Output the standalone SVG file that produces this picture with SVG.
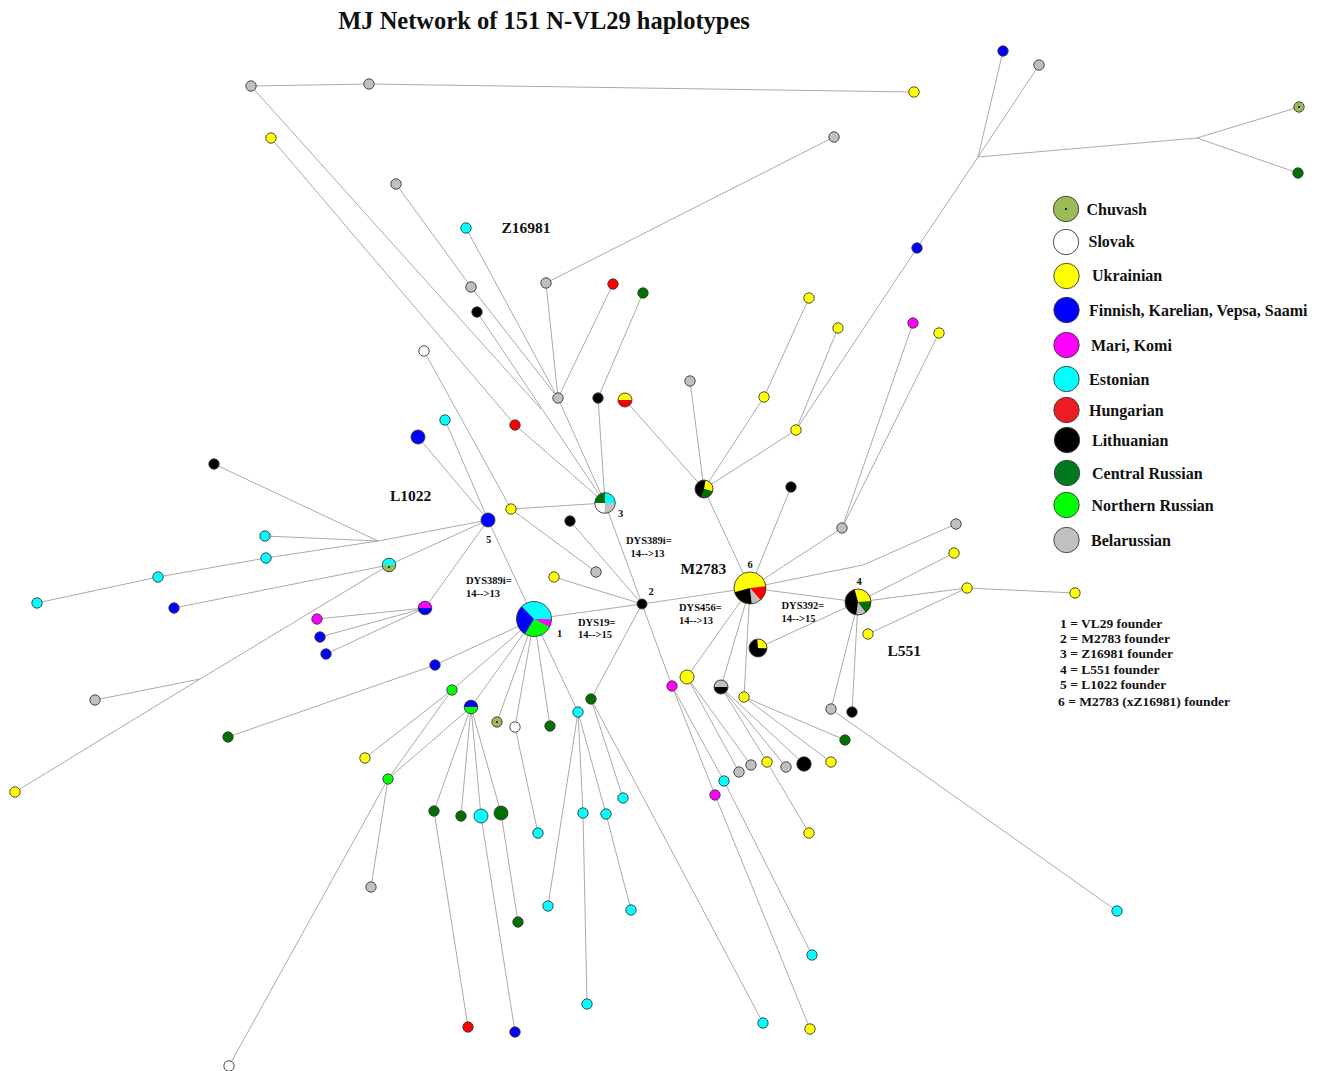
<svg xmlns="http://www.w3.org/2000/svg" width="1320" height="1071" viewBox="0 0 1320 1071">
<style>
.e{stroke:#aaaaaa;stroke-width:1;fill:none}
.n{stroke:#3a3a3a;stroke-width:0.9}
.o{fill:none;stroke:#3a3a3a;stroke-width:0.9}
.gy{fill:#c0c0c0}.ye{fill:#ffff00}.bl{fill:#0000ff}.cy{fill:#00ffff}.mg{fill:#ff00ff}.rd{fill:#ff0000}.bk{fill:#000000}.dg{fill:#007000}.lg{fill:#00ff00}.wh{fill:#ffffff}.ch{fill:#9bbb59}
.t{font-family:"Liberation Serif","Times New Roman",serif;font-weight:bold;fill:#111}
.big{font-size:15.5px}.sm{font-size:10.5px}.lgd{font-size:16px}.fl{font-size:13.5px}
</style>
<rect width="1320" height="1071" fill="#ffffff"/>
<text class="t" x="544" y="29" font-size="24.5" text-anchor="middle">MJ Network of 151 N-VL29 haplotypes</text>
<g id="connectors">
<line class="e" x1="251" y1="86" x2="369" y2="84"/>
<line class="e" x1="369" y1="84" x2="914" y2="92"/>
<line class="e" x1="251" y1="86" x2="541" y2="409"/>
<line class="e" x1="477" y1="312" x2="605" y2="503"/>
<line class="e" x1="271" y1="138" x2="515" y2="425"/>
<line class="e" x1="515" y1="425" x2="605" y2="503"/>
<line class="e" x1="396" y1="184" x2="471" y2="287"/>
<line class="e" x1="471" y1="287" x2="558" y2="398"/>
<line class="e" x1="466" y1="228" x2="558" y2="398"/>
<line class="e" x1="546" y1="283" x2="558" y2="398"/>
<line class="e" x1="546" y1="283" x2="834" y2="137"/>
<line class="e" x1="613" y1="284" x2="558" y2="398"/>
<line class="e" x1="558" y1="398" x2="605" y2="503"/>
<line class="e" x1="643" y1="293" x2="598" y2="398"/>
<line class="e" x1="598" y1="398" x2="605" y2="503"/>
<line class="e" x1="625" y1="400" x2="704" y2="489"/>
<line class="e" x1="704" y1="489" x2="690" y2="381"/>
<line class="e" x1="704" y1="489" x2="764" y2="397"/>
<line class="e" x1="704" y1="489" x2="796" y2="430"/>
<line class="e" x1="764" y1="397" x2="809" y2="298"/>
<line class="e" x1="796" y1="430" x2="838" y2="328"/>
<line class="e" x1="796" y1="430" x2="917" y2="248"/>
<line class="e" x1="917" y1="248" x2="978" y2="157"/>
<line class="e" x1="978" y1="157" x2="1003" y2="51"/>
<line class="e" x1="978" y1="157" x2="1039" y2="65"/>
<line class="e" x1="978" y1="157" x2="1197" y2="138"/>
<line class="e" x1="1197" y1="138" x2="1299" y2="107"/>
<line class="e" x1="1197" y1="138" x2="1298" y2="173"/>
<line class="e" x1="704" y1="489" x2="750" y2="588"/>
<line class="e" x1="750" y1="588" x2="791" y2="487"/>
<line class="e" x1="750" y1="588" x2="842" y2="528"/>
<line class="e" x1="842" y1="528" x2="913" y2="323"/>
<line class="e" x1="842" y1="528" x2="939" y2="333"/>
<polyline class="e" points="750,588 863,565 956,524"/>
<line class="e" x1="750" y1="588" x2="858" y2="602"/>
<line class="e" x1="858" y1="602" x2="954" y2="553"/>
<line class="e" x1="858" y1="602" x2="967" y2="588"/>
<line class="e" x1="967" y1="588" x2="1075" y2="593"/>
<line class="e" x1="868" y1="634" x2="967" y2="588"/>
<line class="e" x1="858" y1="602" x2="758" y2="648"/>
<line class="e" x1="858" y1="602" x2="831" y2="709"/>
<line class="e" x1="858" y1="602" x2="852" y2="712"/>
<line class="e" x1="831" y1="709" x2="1117" y2="911"/>
<line class="e" x1="750" y1="588" x2="687" y2="677"/>
<line class="e" x1="750" y1="588" x2="721" y2="687"/>
<line class="e" x1="750" y1="588" x2="744" y2="697"/>
<line class="e" x1="750" y1="588" x2="642" y2="604"/>
<line class="e" x1="687" y1="677" x2="739" y2="772"/>
<line class="e" x1="687" y1="677" x2="751" y2="765"/>
<line class="e" x1="721" y1="687" x2="767" y2="762"/>
<line class="e" x1="721" y1="687" x2="786" y2="767"/>
<line class="e" x1="721" y1="687" x2="804" y2="764"/>
<line class="e" x1="744" y1="697" x2="845" y2="740"/>
<line class="e" x1="744" y1="697" x2="831" y2="762"/>
<line class="e" x1="767" y1="762" x2="809" y2="833"/>
<line class="e" x1="642" y1="604" x2="672" y2="686"/>
<line class="e" x1="672" y1="686" x2="715" y2="795"/>
<line class="e" x1="672" y1="686" x2="724" y2="781"/>
<line class="e" x1="715" y1="795" x2="810" y2="1029"/>
<line class="e" x1="724" y1="781" x2="812" y2="955"/>
<line class="e" x1="642" y1="604" x2="591" y2="699"/>
<line class="e" x1="591" y1="699" x2="623" y2="798"/>
<line class="e" x1="591" y1="699" x2="763" y2="1023"/>
<line class="e" x1="642" y1="604" x2="605" y2="503"/>
<line class="e" x1="642" y1="604" x2="570" y2="521"/>
<line class="e" x1="642" y1="604" x2="554" y2="577"/>
<line class="e" x1="642" y1="604" x2="534" y2="619"/>
<line class="e" x1="605" y1="503" x2="511" y2="509"/>
<line class="e" x1="511" y1="509" x2="424" y2="351"/>
<line class="e" x1="511" y1="509" x2="596" y2="572"/>
<line class="e" x1="534" y1="619" x2="488" y2="520"/>
<line class="e" x1="488" y1="520" x2="418" y2="437"/>
<line class="e" x1="488" y1="520" x2="445" y2="420"/>
<line class="e" x1="488" y1="520" x2="378" y2="541"/>
<line class="e" x1="488" y1="520" x2="389" y2="565"/>
<line class="e" x1="488" y1="520" x2="425" y2="608"/>
<line class="e" x1="378" y1="541" x2="214" y2="464"/>
<line class="e" x1="378" y1="541" x2="265" y2="536"/>
<line class="e" x1="378" y1="541" x2="266" y2="558"/>
<line class="e" x1="266" y1="558" x2="158" y2="577"/>
<line class="e" x1="158" y1="577" x2="37" y2="603"/>
<line class="e" x1="389" y1="565" x2="174" y2="608"/>
<line class="e" x1="389" y1="565" x2="200" y2="679"/>
<line class="e" x1="200" y1="679" x2="95" y2="700"/>
<line class="e" x1="200" y1="679" x2="15" y2="792"/>
<line class="e" x1="425" y1="608" x2="317" y2="619"/>
<line class="e" x1="425" y1="608" x2="320" y2="637"/>
<line class="e" x1="425" y1="608" x2="326" y2="654"/>
<line class="e" x1="534" y1="619" x2="435" y2="665"/>
<line class="e" x1="435" y1="665" x2="228" y2="737"/>
<line class="e" x1="534" y1="619" x2="452" y2="690"/>
<line class="e" x1="452" y1="690" x2="365" y2="758"/>
<line class="e" x1="452" y1="690" x2="388" y2="779"/>
<line class="e" x1="471" y1="707" x2="388" y2="779"/>
<line class="e" x1="534" y1="619" x2="471" y2="707"/>
<line class="e" x1="388" y1="779" x2="371" y2="887"/>
<line class="e" x1="388" y1="779" x2="229" y2="1066"/>
<line class="e" x1="471" y1="707" x2="434" y2="811"/>
<line class="e" x1="471" y1="707" x2="461" y2="816"/>
<line class="e" x1="471" y1="707" x2="481" y2="816"/>
<line class="e" x1="471" y1="707" x2="501" y2="813"/>
<line class="e" x1="434" y1="811" x2="468" y2="1027"/>
<line class="e" x1="481" y1="816" x2="515" y2="1032"/>
<line class="e" x1="501" y1="813" x2="518" y2="922"/>
<line class="e" x1="534" y1="619" x2="497" y2="722"/>
<line class="e" x1="534" y1="619" x2="515" y2="727"/>
<line class="e" x1="515" y1="727" x2="538" y2="833"/>
<line class="e" x1="534" y1="619" x2="550" y2="726"/>
<line class="e" x1="534" y1="619" x2="578" y2="712"/>
<line class="e" x1="578" y1="712" x2="548" y2="906"/>
<line class="e" x1="578" y1="712" x2="583" y2="813"/>
<line class="e" x1="578" y1="712" x2="606" y2="814"/>
<line class="e" x1="583" y1="813" x2="587" y2="1004"/>
<line class="e" x1="606" y1="814" x2="631" y2="910"/>
</g>
<g id="n_g1"><circle class="n gy" cx="251" cy="86" r="5.2"/></g>
<g id="n_g2"><circle class="n gy" cx="369" cy="84" r="5.2"/></g>
<g id="n_y1"><circle class="n ye" cx="914" cy="92" r="5.2"/></g>
<g id="n_y2"><circle class="n ye" cx="271" cy="138" r="5.2"/></g>
<g id="n_g3"><circle class="n gy" cx="396" cy="184" r="5.2"/></g>
<g id="n_c1"><circle class="n cy" cx="466" cy="228" r="5.2"/></g>
<g id="n_g4"><circle class="n gy" cx="471" cy="287" r="5.2"/></g>
<g id="n_k1"><circle class="n bk" cx="477" cy="312" r="5.2"/></g>
<g id="n_g5"><circle class="n gy" cx="546" cy="283" r="5.2"/></g>
<g id="n_g6"><circle class="n gy" cx="834" cy="137" r="5.2"/></g>
<g id="n_r1"><circle class="n rd" cx="613" cy="284" r="5.2"/></g>
<g id="n_dg1"><circle class="n dg" cx="643" cy="293" r="5.2"/></g>
<g id="n_w1"><circle class="n wh" cx="424" cy="351" r="5.2"/></g>
<g id="n_g7"><circle class="n gy" cx="558" cy="398" r="5.2"/></g>
<g id="n_k2"><circle class="n bk" cx="598" cy="398" r="5.2"/></g>
<g id="n_ry"><circle class="rd" cx="625" cy="400" r="7"/><path class="ye" d="M618,400 A7,7 0 0 1 632,400 Z"/><circle class="o" cx="625" cy="400" r="7"/></g>
<g id="n_r2"><circle class="n rd" cx="515" cy="425" r="5.2"/></g>
<g id="n_c2"><circle class="n cy" cx="445" cy="420" r="5.2"/></g>
<g id="n_b1"><circle class="n bl" cx="418" cy="437" r="7"/></g>
<g id="n_k3"><circle class="n bk" cx="214" cy="464" r="5.2"/></g>
<g id="n_b2"><circle class="n bl" cx="1003" cy="51" r="5.2"/></g>
<g id="n_g8"><circle class="n gy" cx="1039" cy="65" r="5.2"/></g>
<g id="n_ch1"><circle class="n ch" cx="1299" cy="107" r="5.2"/><circle class="bk" cx="1299" cy="107" r="1"/></g>
<g id="n_dg2"><circle class="n dg" cx="1298" cy="173" r="5.2"/></g>
<g id="n_b3"><circle class="n bl" cx="917" cy="248" r="5.2"/></g>
<g id="n_m1"><circle class="n mg" cx="913" cy="323" r="5.2"/></g>
<g id="n_y3"><circle class="n ye" cx="939" cy="333" r="5.2"/></g>
<g id="n_y4"><circle class="n ye" cx="809" cy="298" r="5.2"/></g>
<g id="n_y5"><circle class="n ye" cx="838" cy="328" r="5.2"/></g>
<g id="n_y6"><circle class="n ye" cx="764" cy="397" r="5.2"/></g>
<g id="n_y7"><circle class="n ye" cx="796" cy="430" r="5.2"/></g>
<g id="n_g9"><circle class="n gy" cx="690" cy="381" r="5.2"/></g>
<g id="n_p704"><circle class="bk" cx="704" cy="489" r="9"/>
<circle cx="704" cy="489" r="4.5" fill="none" stroke="#ffff00" stroke-width="9" stroke-dasharray="7.46 40" transform="rotate(-80 704 489)"/>
<circle cx="704" cy="489" r="4.5" fill="none" stroke="#007000" stroke-width="9" stroke-dasharray="7.46 40" transform="rotate(15 704 489)"/>
<circle class="o" cx="704" cy="489" r="9"/></g>
<g id="n_k4"><circle class="n bk" cx="791" cy="487" r="5.2"/></g>
<g id="n_g10"><circle class="n gy" cx="842" cy="528" r="5.2"/></g>
<g id="n_g11"><circle class="n gy" cx="956" cy="524" r="5.2"/></g>
<g id="n_y8"><circle class="n ye" cx="954" cy="553" r="5.2"/></g>
<g id="n_y9"><circle class="n ye" cx="967" cy="588" r="5.2"/></g>
<g id="n_y10"><circle class="n ye" cx="1075" cy="593" r="5.2"/></g>
<g id="n_y11"><circle class="n ye" cx="868" cy="634" r="5.2"/></g>
<g id="node4"><circle class="bk" cx="858" cy="602" r="13"/>
<circle cx="858" cy="602" r="6.5" fill="none" stroke="#ffff00" stroke-width="13" stroke-dasharray="11.57 50" transform="rotate(-105 858 602)"/>
<circle cx="858" cy="602" r="6.5" fill="none" stroke="#007000" stroke-width="13" stroke-dasharray="6.47 50" transform="rotate(-3 858 602)"/>
<circle cx="858" cy="602" r="6.5" fill="none" stroke="#c0c0c0" stroke-width="13" stroke-dasharray="4.88 50" transform="rotate(54 858 602)"/>
<circle class="o" cx="858" cy="602" r="13"/></g>
<g id="node6"><circle class="ye" cx="750" cy="588" r="16"/>
<circle cx="750" cy="588" r="8" fill="none" stroke="#ff0000" stroke-width="16" stroke-dasharray="7.68 60" transform="rotate(-6 750 588)"/>
<circle cx="750" cy="588" r="8" fill="none" stroke="#c0c0c0" stroke-width="16" stroke-dasharray="4.89 60" transform="rotate(49 750 588)"/>
<circle cx="750" cy="588" r="8" fill="none" stroke="#000000" stroke-width="16" stroke-dasharray="11.17 60" transform="rotate(84 750 588)"/>
<circle class="o" cx="750" cy="588" r="16"/></g>
<g id="n_p759"><circle class="bk" cx="758" cy="648" r="9"/>
<circle cx="758" cy="648" r="4.5" fill="none" stroke="#ffff00" stroke-width="9" stroke-dasharray="7.46 40" transform="rotate(-95 758 648)"/>
<circle class="o" cx="758" cy="648" r="9"/></g>
<g id="n_g12"><circle class="n gy" cx="831" cy="709" r="5.2"/></g>
<g id="n_k5"><circle class="n bk" cx="852" cy="712" r="5.2"/></g>
<g id="n_c3"><circle class="n cy" cx="1117" cy="911" r="5.2"/></g>
<g id="n_p721"><circle class="bk" cx="721" cy="687" r="7"/><path class="gy" d="M714,687 A7,7 0 0 1 728,687 Z"/><circle class="o" cx="721" cy="687" r="7"/></g>
<g id="n_yb"><circle class="n ye" cx="687" cy="677" r="7"/></g>
<g id="n_y12"><circle class="n ye" cx="744" cy="697" r="5.2"/></g>
<g id="n_m2"><circle class="n mg" cx="672" cy="686" r="5.2"/></g>
<g id="n_m3"><circle class="n mg" cx="715" cy="795" r="5.2"/></g>
<g id="n_c4"><circle class="n cy" cx="724" cy="781" r="5.2"/></g>
<g id="n_g13"><circle class="n gy" cx="739" cy="772" r="5.2"/></g>
<g id="n_g14"><circle class="n gy" cx="751" cy="765" r="5.2"/></g>
<g id="n_y13"><circle class="n ye" cx="767" cy="762" r="5.2"/></g>
<g id="n_g15"><circle class="n gy" cx="786" cy="767" r="5.2"/></g>
<g id="n_k6"><circle class="n bk" cx="804" cy="764" r="7.2"/></g>
<g id="n_y14"><circle class="n ye" cx="831" cy="762" r="5.2"/></g>
<g id="n_dg3"><circle class="n dg" cx="845" cy="740" r="5.2"/></g>
<g id="n_y15"><circle class="n ye" cx="809" cy="833" r="5.2"/></g>
<g id="n_c5"><circle class="n cy" cx="812" cy="955" r="5.2"/></g>
<g id="n_y16"><circle class="n ye" cx="810" cy="1029" r="5.2"/></g>
<g id="n_c6"><circle class="n cy" cx="763" cy="1023" r="5.2"/></g>
<g id="node3"><circle class="wh" cx="605" cy="503" r="10.3"/>
<circle cx="605" cy="503" r="5.15" fill="none" stroke="#007000" stroke-width="10.3" stroke-dasharray="8.09 40" transform="rotate(180 605 503)"/>
<circle cx="605" cy="503" r="5.15" fill="none" stroke="#00ffff" stroke-width="10.3" stroke-dasharray="8.09 40" transform="rotate(270 605 503)"/>
<circle cx="605" cy="503" r="5.15" fill="none" stroke="#c0c0c0" stroke-width="10.3" stroke-dasharray="8.09 40"/>
<circle class="o" cx="605" cy="503" r="10.3"/></g>
<g id="node2"><circle class="n bk" cx="642" cy="604" r="5"/></g>
<g id="node1"><circle class="cy" cx="534" cy="619" r="17.5"/>
<circle cx="534" cy="619" r="8.75" fill="none" stroke="#ff00ff" stroke-width="17.5" stroke-dasharray="4.12 60" transform="rotate(1 534 619)"/>
<circle cx="534" cy="619" r="8.75" fill="none" stroke="#00ff00" stroke-width="17.5" stroke-dasharray="14.2 60" transform="rotate(28 534 619)"/>
<circle cx="534" cy="619" r="8.75" fill="none" stroke="#0000ff" stroke-width="17.5" stroke-dasharray="15.88 60" transform="rotate(121 534 619)"/>
<circle class="o" cx="534" cy="619" r="17.5"/></g>
<g id="node5"><circle class="n bl" cx="488" cy="520" r="7"/></g>
<g id="n_y17"><circle class="n ye" cx="511" cy="509" r="5.2"/></g>
<g id="n_g16"><circle class="n gy" cx="596" cy="572" r="5.2"/></g>
<g id="n_k7"><circle class="n bk" cx="570" cy="521" r="5.2"/></g>
<g id="n_y18"><circle class="n ye" cx="554" cy="577" r="5.2"/></g>
<g id="n_c7"><circle class="n cy" cx="265" cy="536" r="5.2"/></g>
<g id="n_c8"><circle class="n cy" cx="266" cy="558" r="5.2"/></g>
<g id="n_c9"><circle class="n cy" cx="158" cy="577" r="5.2"/></g>
<g id="n_c10"><circle class="n cy" cx="37" cy="603" r="5.2"/></g>
<g id="n_b4"><circle class="n bl" cx="174" cy="608" r="5.2"/></g>
<g id="n_p389"><circle class="ch" cx="389" cy="565" r="6.8"/><path class="cy" d="M382.2,565 A6.8,6.8 0 0 1 395.8,565 Z"/><circle class="bk" cx="389" cy="567" r="0.9"/><circle class="o" cx="389" cy="565" r="6.8"/></g>
<g id="n_g17"><circle class="n gy" cx="95" cy="700" r="5.2"/></g>
<g id="n_y19"><circle class="n ye" cx="15" cy="792" r="5.2"/></g>
<g id="n_p425"><circle class="bl" cx="425" cy="608" r="6.8"/><path class="mg" d="M418.2,608 A6.8,6.8 0 0 1 431.8,608 Z"/><circle class="o" cx="425" cy="608" r="6.8"/></g>
<g id="n_m4"><circle class="n mg" cx="317" cy="619" r="5.2"/></g>
<g id="n_b5"><circle class="n bl" cx="320" cy="637" r="5.2"/></g>
<g id="n_b6"><circle class="n bl" cx="326" cy="654" r="5.2"/></g>
<g id="n_b7"><circle class="n bl" cx="435" cy="665" r="5.2"/></g>
<g id="n_dg4"><circle class="n dg" cx="228" cy="737" r="5.2"/></g>
<g id="n_lg1"><circle class="n lg" cx="452" cy="690" r="5.2"/></g>
<g id="n_y20"><circle class="n ye" cx="365" cy="758" r="5.2"/></g>
<g id="n_lg2"><circle class="n lg" cx="388" cy="779" r="5.2"/></g>
<g id="n_p470"><circle class="lg" cx="471" cy="707" r="6.8"/><path class="bl" d="M464.2,707 A6.8,6.8 0 0 1 477.8,707 Z"/><circle class="o" cx="471" cy="707" r="6.8"/></g>
<g id="n_ch2"><circle class="n ch" cx="497" cy="722" r="5.2"/><circle class="bk" cx="497" cy="722" r="0.9"/></g>
<g id="n_w2"><circle class="n wh" cx="515" cy="727" r="5.2"/></g>
<g id="n_dg5"><circle class="n dg" cx="550" cy="726" r="5.2"/></g>
<g id="n_c11"><circle class="n cy" cx="578" cy="712" r="5.2"/></g>
<g id="n_dg6"><circle class="n dg" cx="591" cy="699" r="5.2"/></g>
<g id="n_g18"><circle class="n gy" cx="371" cy="887" r="5.2"/></g>
<g id="n_w3"><circle class="n wh" cx="229" cy="1066" r="5.2"/></g>
<g id="n_dg7"><circle class="n dg" cx="434" cy="811" r="5.2"/></g>
<g id="n_dg8"><circle class="n dg" cx="461" cy="816" r="5.2"/></g>
<g id="n_cb"><circle class="n cy" cx="481" cy="816" r="7"/></g>
<g id="n_dgb"><circle class="n dg" cx="501" cy="813" r="7"/></g>
<g id="n_r3"><circle class="n rd" cx="468" cy="1027" r="5.2"/></g>
<g id="n_b8"><circle class="n bl" cx="515" cy="1032" r="5.2"/></g>
<g id="n_dg9"><circle class="n dg" cx="518" cy="922" r="5.2"/></g>
<g id="n_c12"><circle class="n cy" cx="538" cy="833" r="5.2"/></g>
<g id="n_c13"><circle class="n cy" cx="548" cy="906" r="5.2"/></g>
<g id="n_c14"><circle class="n cy" cx="583" cy="813" r="5.2"/></g>
<g id="n_c15"><circle class="n cy" cx="606" cy="814" r="5.2"/></g>
<g id="n_c16"><circle class="n cy" cx="587" cy="1004" r="5.2"/></g>
<g id="n_c17"><circle class="n cy" cx="631" cy="910" r="5.2"/></g>
<g id="n_c18"><circle class="n cy" cx="623" cy="798" r="5.2"/></g>
<g id="labels">
<text class="t big" x="501.5" y="232.5">Z16981</text>
<text class="t big" x="390" y="500.5">L1022</text>
<text class="t big" x="680.5" y="573.5">M2783</text>
<text class="t big" x="887.5" y="655.5">L551</text>
<text class="t sm" x="466" y="584">DYS389i=</text>
<text class="t sm" x="466" y="596.5">14--&gt;13</text>
<text class="t sm" x="578" y="626">DYS19=</text>
<text class="t sm" x="578" y="638">14--&gt;15</text>
<text class="t sm" x="626" y="544">DYS389i=</text>
<text class="t sm" x="630.5" y="556.5">14--&gt;13</text>
<text class="t sm" x="679" y="610.5">DYS456=</text>
<text class="t sm" x="679" y="624">14--&gt;13</text>
<text class="t sm" x="781.5" y="609">DYS392=</text>
<text class="t sm" x="781.5" y="621.5">14--&gt;15</text>
<text class="t sm" x="557" y="636.5">1</text>
<text class="t sm" x="648.5" y="595">2</text>
<text class="t sm" x="618" y="516.5">3</text>
<text class="t sm" x="859" y="585" text-anchor="middle">4</text>
<text class="t sm" x="486" y="543">5</text>
<text class="t sm" x="750" y="567.5" text-anchor="middle">6</text>
</g>
<g id="legend">
<circle class="n" cx="1066" cy="209" r="12.7" fill="#9bbb59"/><circle class="bk" cx="1066" cy="209" r="1.1"/>
<circle class="n wh" cx="1066" cy="242" r="12.7"/>
<circle class="n ye" cx="1066.5" cy="276" r="12.7"/>
<circle class="n bl" cx="1066.5" cy="310" r="12.7"/>
<circle class="n mg" cx="1066.5" cy="345" r="12.7"/>
<circle class="n cy" cx="1066.5" cy="379" r="12.7"/>
<circle class="n" cx="1066.5" cy="410" r="12.7" fill="#ed1c24"/>
<circle class="n bk" cx="1067" cy="440" r="12.7"/>
<circle class="n" cx="1067" cy="473" r="12.7" fill="#007a1e"/>
<circle class="n lg" cx="1066.5" cy="505" r="12.7"/>
<circle class="n gy" cx="1066.5" cy="540" r="12.7"/>
<text class="t lgd" x="1086.5" y="214.5">Chuvash</text>
<text class="t lgd" x="1088.5" y="247">Slovak</text>
<text class="t lgd" x="1092" y="281">Ukrainian</text>
<text class="t lgd" x="1089" y="315.5">Finnish, Karelian, Vepsa, Saami</text>
<text class="t lgd" x="1091" y="350.5">Mari, Komi</text>
<text class="t lgd" x="1089" y="384.5">Estonian</text>
<text class="t lgd" x="1089" y="415.5">Hungarian</text>
<text class="t lgd" x="1092" y="445.5">Lithuanian</text>
<text class="t lgd" x="1092" y="479">Central Russian</text>
<text class="t lgd" x="1091.5" y="510.5">Northern Russian</text>
<text class="t lgd" x="1091" y="545.5">Belarussian</text>
<text class="t fl" x="1060" y="628">1 = VL29 founder</text>
<text class="t fl" x="1060" y="643">2 = M2783 founder</text>
<text class="t fl" x="1060" y="658">3 = Z16981 founder</text>
<text class="t fl" x="1060" y="673.5">4 = L551 founder</text>
<text class="t fl" x="1060" y="689">5 = L1022 founder</text>
<text class="t fl" x="1058" y="705.5">6 = M2783 (xZ16981) founder</text>
</g>
</svg>
